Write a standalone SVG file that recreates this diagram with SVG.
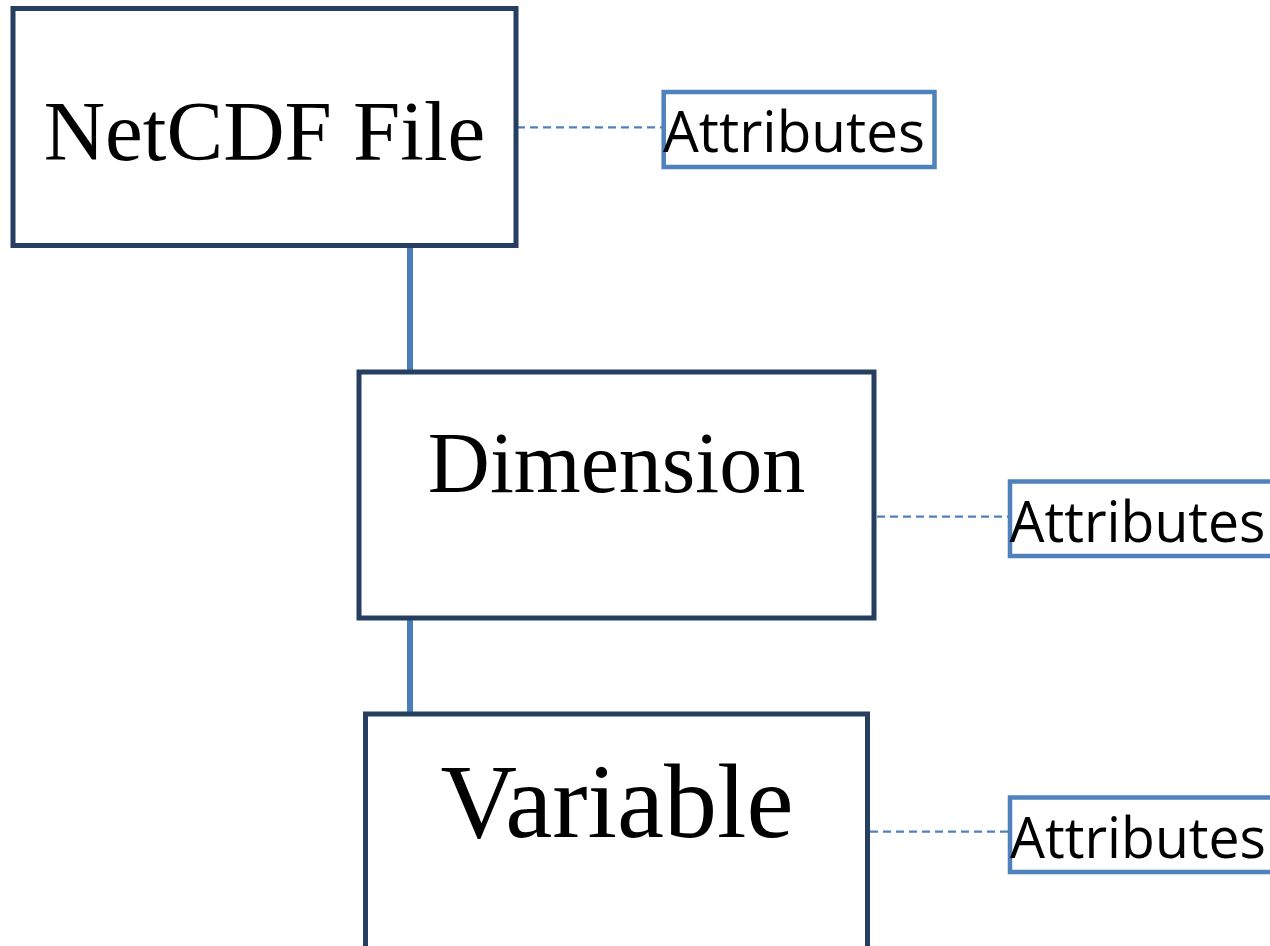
<svg xmlns="http://www.w3.org/2000/svg" width="1270" height="946" viewBox="0 0 1270 946">
<style>
.main{fill:#ffffff;stroke:#263F60;stroke-width:5}
.attr{fill:#ffffff;stroke:#4F81BD;stroke-width:4.5}
.mt{font-family:"Liberation Serif","Times New Roman",serif;fill:#000;text-anchor:middle}
.at{font-family:"Open Sans","Noto Sans","Liberation Sans",sans-serif;font-size:57px;fill:#000}
.solid{stroke:#4A7EBB;stroke-width:6;fill:none}
.dash{stroke:#4F81BD;stroke-width:2.2;stroke-dasharray:8 5;fill:none}
</style>
<g id="connectors">
<line class="solid" x1="410" y1="245" x2="410" y2="372"/>
<line class="solid" x1="410" y1="618" x2="410" y2="714"/>
<line class="dash" x1="517" y1="127.3" x2="662" y2="127.3"/>
<line class="dash" x1="877" y1="516.7" x2="1008" y2="516.7"/>
<line class="dash" x1="870" y1="831.7" x2="1008" y2="831.7"/>
</g>
<g id="netcdf-file">
<rect class="main" x="13" y="8.5" width="503" height="237"/>
<text class="mt" x="264.5" y="160" font-size="85">NetCDF File</text>
</g>
<g id="dimension">
<rect class="main" x="359" y="372" width="515" height="246"/>
<text class="mt" x="616.5" y="492" font-size="86">Dimension</text>
</g>
<g id="variable">
<rect class="main" x="365.5" y="714" width="502" height="260"/>
<text class="mt" x="617" y="837" font-size="106">Variable</text>
</g>
<g id="attributes-file">
<rect class="attr" x="663.7" y="92" width="270.8" height="75"/>
<text class="at" x="663" y="152" textLength="262" lengthAdjust="spacingAndGlyphs">Attributes</text>
</g>
<g id="attributes-dimension">
<rect class="attr" x="1010" y="481.5" width="271" height="74.5"/>
<text class="at" x="1009.5" y="542" textLength="256" lengthAdjust="spacingAndGlyphs">Attributes</text>
</g>
<g id="attributes-variable">
<rect class="attr" x="1010" y="797.5" width="271" height="74.5"/>
<text class="at" x="1010" y="858" textLength="256" lengthAdjust="spacingAndGlyphs">Attributes</text>
</g>
</svg>
